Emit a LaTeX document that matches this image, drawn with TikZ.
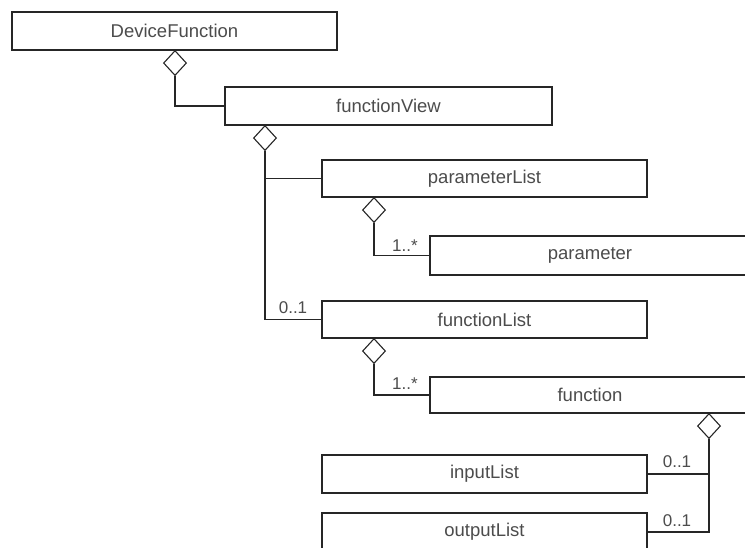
\documentclass[tikz,border=0pt]{standalone}
\usepackage{fontspec}
\setmainfont{Liberation Sans}
\usetikzlibrary{shapes.geometric}
\begin{document}
\begin{tikzpicture}[x=1pt,y=-1pt,
  cls/.style={draw=black!85,line width=1.1pt,minimum height=38pt,inner sep=0pt,font=\fontsize{18.5}{18.5}\selectfont,text=black!70},
  agg/.style={draw=black!85,line width=1.1pt,shape=diamond,fill=white,minimum width=23pt,minimum height=25pt,inner sep=0pt,anchor=north},
  conn/.style={draw=black!85,line width=1.1pt},
  mult/.style={font=\fontsize{17}{17}\selectfont,text=black!70,inner sep=0pt}]
\useasboundingbox (0,0) rectangle (745,548);
\clip (0,0) rectangle (745,548);
\fill[white] (0,0) rectangle (745,548);
% classes
\node[cls,minimum width=325pt] (DF) at (174.5,31) {DeviceFunction};
\node[cls,minimum width=327pt] (FV) at (388.5,106) {functionView};
\node[cls,minimum width=325pt,minimum height=37pt] (PL) at (484.5,178.5) {parameterList};
\node[cls,minimum width=320pt,minimum height=39pt] (P) at (590,255.5) {parameter};
\node[cls,minimum width=325pt,minimum height=37pt] (FL) at (484.5,319.5) {functionList};
\node[cls,minimum width=320pt,minimum height=36pt] (F) at (590,395) {function};
\node[cls,minimum width=325pt] (IL) at (484.5,474) {inputList};
\node[cls,minimum width=325pt] (OL) at (484.5,532) {outputList};
% aggregation diamonds
\node[agg] (d1) at (175,50) {};
\node[agg] (d2) at (265,125) {};
\node[agg] (d3) at (374,197) {};
\node[agg] (d4) at (374,338) {};
\node[agg] (d5) at (709,413) {};
% connectors
\draw[conn] (d1.south) |- (FV.west);
\draw[conn] (d2.south) |- (FL.west);
\coordinate (j1) at (d2.south |- PL.west);
\draw[conn] (j1) -- (PL.west);
\draw[conn] (d3.south) |- (P.west);
\draw[conn] (d4.south) |- (F.west);
\draw[conn] (d5.south) |- (OL.east);
\coordinate (j2) at (d5.south |- IL.east);
\draw[conn] (IL.east) -- (j2);
% multiplicities
\node[mult] (m1) at (293,308) {0..1};
\node[mult] (m2) at (405,246) {1..*};
\node[mult] (m3) at (405,384) {1..*};
\node[mult] (m4) at (677,462) {0..1};
\node[mult] (m5) at (677,521) {0..1};
\end{tikzpicture}
\end{document}
